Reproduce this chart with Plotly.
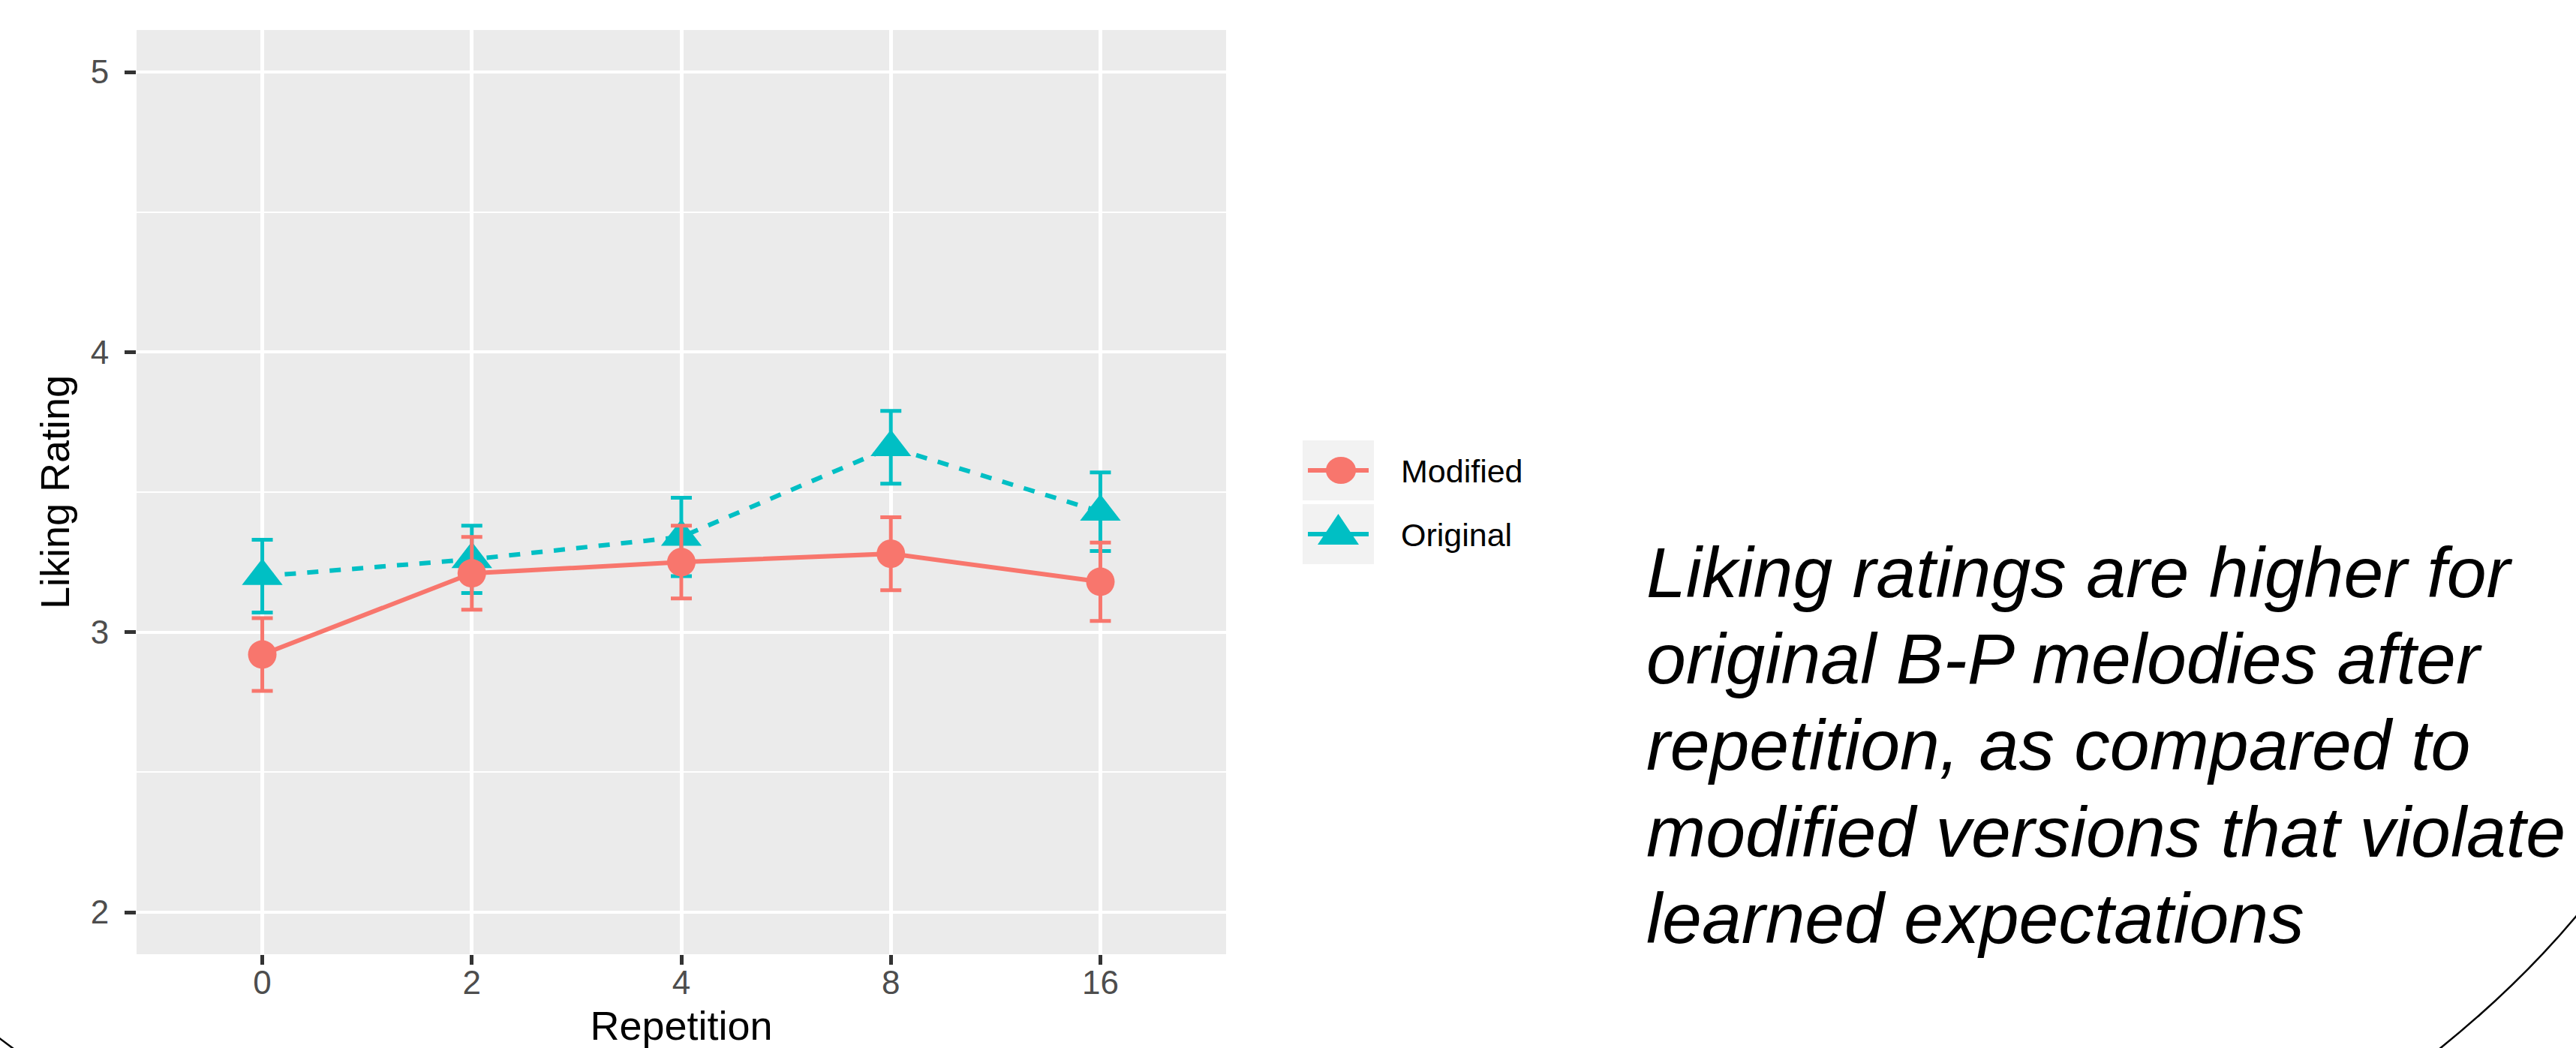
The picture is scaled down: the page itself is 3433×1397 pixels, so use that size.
import plotly.graph_objects as go

# ---------------- data ----------------
repetition = ["0", "2", "4", "8", "16"]
modified_mean = [2.92, 3.21, 3.25, 3.28, 3.18]
modified_err = [0.13, 0.13, 0.13, 0.13, 0.14]
original_mean = [3.20, 3.26, 3.34, 3.66, 3.43]
original_err = [0.13, 0.12, 0.14, 0.13, 0.14]
y_ticks = [2, 3, 4, 5]
caption_lines = [
    "Liking ratings are higher for",
    "original B-P melodies after",
    "repetition, as compared to",
    "modified versions that violate",
    "learned expectations",
]

RED = "#F8766D"
CYAN = "#00BFC4"
FONT = "Liberation Sans"

# ---------------- page geometry (pixels) ----------------
W, H = 3433, 1397
PL, PR, PT, PB = 182, 1634, 40, 1272


def fx(x):
    return (x - PL) / (PR - PL)


def fy(y):
    return (PB - y) / (PB - PT)


fig = go.Figure()

fig.add_trace(go.Scatter(
    x=repetition, y=original_mean, name="Original", mode="lines+markers",
    line=dict(color=CYAN, width=6, dash="15px,15px"),
    marker=dict(symbol="triangle-up", size=47, color=CYAN, line=dict(width=0)),
    error_y=dict(type="data", array=original_err, visible=True,
                 color=CYAN, thickness=5, width=14),
    showlegend=False,
))
fig.add_trace(go.Scatter(
    x=repetition, y=modified_mean, name="Modified", mode="lines+markers",
    line=dict(color=RED, width=6),
    marker=dict(symbol="circle", size=38, color=RED, line=dict(width=0)),
    error_y=dict(type="data", array=modified_err, visible=True,
                 color=RED, thickness=5, width=14),
    showlegend=False,
))

shapes = []
annotations = []

# ---------------- legend (drawn by hand to match ggplot keys) ----------------
key_x0, key_x1 = 1736, 1831
keys = [
    dict(name="Modified", color=RED, y0=587, y1=667, cy=627),
    dict(name="Original", color=CYAN, y0=672, y1=752, cy=712),
]
for k in keys:
    shapes.append(dict(type="rect", xref="paper", yref="paper",
                       x0=fx(key_x0), x1=fx(key_x1), y0=fy(k["y1"]), y1=fy(k["y0"]),
                       fillcolor="#F2F2F2", line=dict(width=0), layer="above"))
    shapes.append(dict(type="line", xref="paper", yref="paper",
                       x0=fx(1743), x1=fx(1824), y0=fy(k["cy"]), y1=fy(k["cy"]),
                       line=dict(color=k["color"], width=6), layer="above"))
    annotations.append(dict(text=k["name"], xref="paper", yref="paper",
                            x=fx(1865), y=fy(k["cy"] + 1), xanchor="left", yanchor="middle",
                            showarrow=False, font=dict(family=FONT, size=43, color="black")))
# circle key
shapes.append(dict(type="circle", xref="paper", yref="paper",
                   x0=fx(1787 - 20), x1=fx(1787 + 20), y0=fy(627 + 18), y1=fy(627 - 18),
                   fillcolor=RED, line=dict(width=0), layer="above"))
# triangle key
shapes.append(dict(type="path", xref="paper", yref="paper",
                   path="M {:.5f} {:.5f} L {:.5f} {:.5f} L {:.5f} {:.5f} Z".format(
                       fx(1756), fy(726), fx(1811), fy(726), fx(1783.5), fy(685)),
                   fillcolor=CYAN, line=dict(width=0), layer="above"))

# ---------------- caption text ----------------
cap_size = 95
baselines = [796, 911, 1026, 1142, 1257]
for line, base in zip(caption_lines, baselines):
    annotations.append(dict(text="<i>" + line + "</i>", xref="paper", yref="paper",
                            x=fx(2192), y=fy(base - 0.3465 * cap_size),
                            xanchor="left", yanchor="middle", showarrow=False,
                            font=dict(family=FONT, size=cap_size, color="black")))

# ---------------- decorative slide outline ----------------
shapes.append(dict(type="path", xref="paper", yref="paper",
                   path="M {:.5f} {:.5f} L {:.5f} {:.5f}".format(fx(-6), fy(1380), fx(22), fy(1401)),
                   line=dict(color="black", width=2.5), layer="above"))
shapes.append(dict(type="path", xref="paper", yref="paper",
                   path="M {:.5f} {:.5f} Q {:.5f} {:.5f} {:.5f} {:.5f}".format(
                       fx(3436), fy(1218), fx(3357), fy(1313), fx(3250), fy(1399)),
                   line=dict(color="black", width=2.5), layer="above"))

fig.update_layout(
    width=W, height=H,
    margin=dict(l=PL, r=W - PR, t=PT, b=H - PB, autoexpand=False),
    paper_bgcolor="white", plot_bgcolor="#EBEBEB",
    font=dict(family=FONT),
    shapes=shapes, annotations=annotations,
    showlegend=False,
    xaxis=dict(
        type="category", categoryorder="array", categoryarray=repetition,
        range=[-0.6, 4.6], showgrid=True, gridcolor="white", gridwidth=5,
        zeroline=False, showline=False,
        ticks="outside", ticklen=13, tickwidth=5, tickcolor="#333333",
        tickfont=dict(family=FONT, size=44, color="#4D4D4D"),
        ticklabelstandoff=-14,
        title=dict(text="Repetition", font=dict(family=FONT, size=54, color="black"), standoff=24),
    ),
    yaxis=dict(
        range=[1.85, 5.15], tickmode="array", tickvals=y_ticks,
        showgrid=True, gridcolor="white", gridwidth=4.3,
        minor=dict(tickmode="array", tickvals=[2.5, 3.5, 4.5], showgrid=True,
                   gridcolor="white", gridwidth=2.2, ticks=""),
        zeroline=False, showline=False,
        ticks="outside", ticklen=15, tickwidth=4.5, tickcolor="#333333",
        tickfont=dict(family=FONT, size=44, color="#4D4D4D"),
        ticklabelstandoff=12,
        title=dict(text="Liking Rating", font=dict(family=FONT, size=54, color="black"), standoff=10),
    ),
)

fig.write_html("out.html")
